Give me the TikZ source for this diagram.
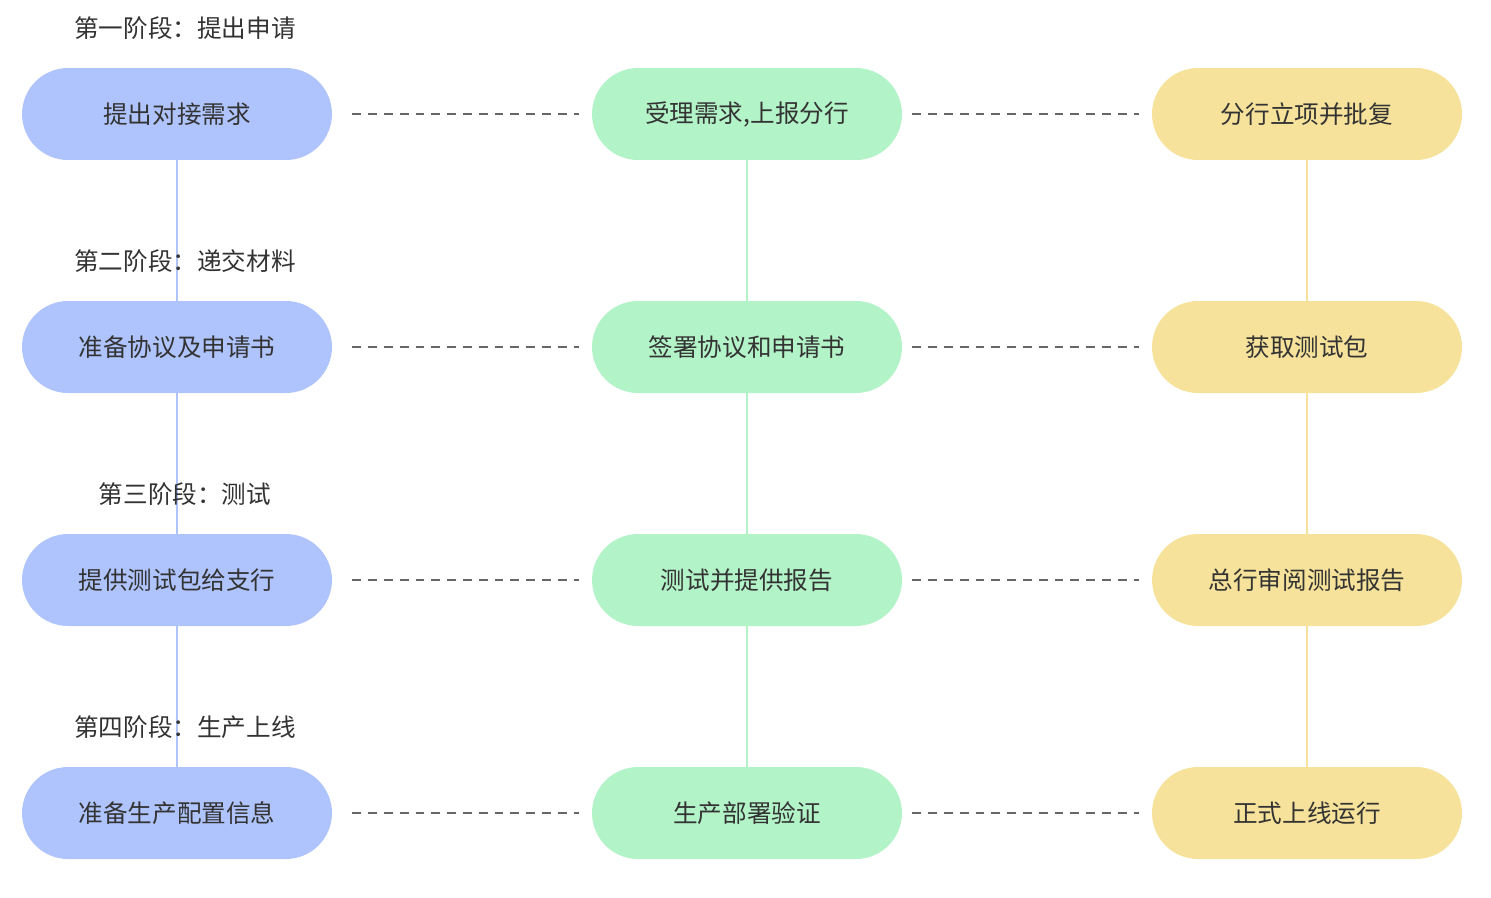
\documentclass[tikz,border=0pt]{standalone}
\usepackage{fontspec}
\setmainfont{Noto Sans CJK SC}
\definecolor{bluebox}{HTML}{AFC4FC}
\definecolor{greenbox}{HTML}{B3F3C8}
\definecolor{yellowbox}{HTML}{F6E29A}
\definecolor{txt}{HTML}{333333}
\begin{document}
\begin{tikzpicture}[x=0.02cm,y=-0.02cm,
  stage box/.style={minimum width=6.2cm,minimum height=1.84cm,rounded corners=0.92cm,font=\fontsize{14}{16}\selectfont,text=txt},
  phase/.style={font=\fontsize{14}{16}\selectfont,text=txt},
  link/.style={dash pattern=on 5pt off 4pt,line width=1.2pt,draw=black!60}]
\useasboundingbox (0,0) rectangle (1491,897);
% columns
\foreach \i/\y/\a/\b/\c in {1/114/提出对接需求/{受理需求,上报分行}/分行立项并批复,
  2/347/准备协议及申请书/签署协议和申请书/获取测试包,
  3/580/提供测试包给支行/测试并提供报告/总行审阅测试报告,
  4/813/准备生产配置信息/生产部署验证/正式上线运行}{
  \node[stage box,fill=bluebox] (l\i) at (177,\y) {\a};
  \node[stage box,fill=greenbox] (m\i) at (747,\y) {\b};
  \node[stage box,fill=yellowbox] (r\i) at (1307,\y) {\c};
  \draw[link] ([xshift=0.4cm]l\i.east) -- ([xshift=-0.25cm]m\i.west);
  \draw[link] ([xshift=0.2cm]m\i.east) -- ([xshift=-0.25cm]r\i.west);
}
\foreach \i/\j in {1/2,2/3,3/4}{
  \draw[bluebox,line width=1.5pt] (l\i) -- (l\j);
  \draw[greenbox,line width=1.5pt] (m\i) -- (m\j);
  \draw[yellowbox,line width=1.5pt] (r\i) -- (r\j);
}
% phase labels
\node[phase] (p1) at (185,28) {第一阶段：提出申请};
\node[phase] (p2) at (185,261) {第二阶段：递交材料};
\node[phase] (p3) at (185,494) {第三阶段：测试};
\node[phase] (p4) at (185,727) {第四阶段：生产上线};
\end{tikzpicture}
\end{document}
